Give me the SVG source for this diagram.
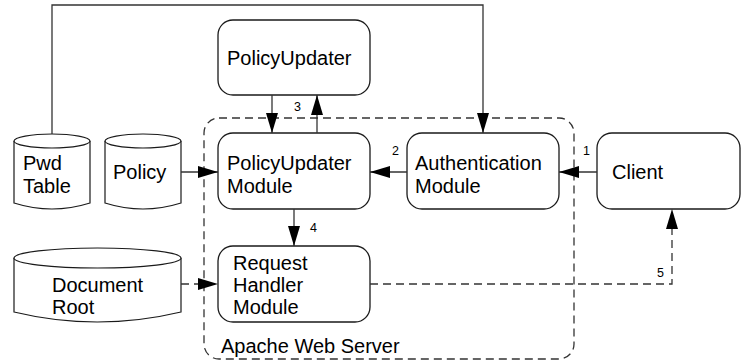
<svg xmlns="http://www.w3.org/2000/svg" width="741" height="363" viewBox="0 0 741 363">
<style>
.box{fill:#fff;stroke:#1a1a1a;stroke-width:1.3}
.cyl{fill:#fff;stroke:#1a1a1a;stroke-width:1.2}
.t{font-family:"Liberation Sans",Arial,sans-serif;font-size:20px;fill:#000}
.n{font-family:"Liberation Sans",Arial,sans-serif;font-size:12.5px;fill:#000}
.ln{fill:none;stroke:#333;stroke-width:1.3}
.dash{fill:none;stroke:#333;stroke-width:1.3;stroke-dasharray:8,5}
</style>
<defs>
<marker id="ah" markerUnits="userSpaceOnUse" markerWidth="20" markerHeight="12" refX="20" refY="6" orient="auto">
<path d="M0,0 L20,6 L0,12 Z" fill="#000"/>
</marker>
</defs>
<g id="apache-web-server">
<rect x="204" y="118" width="370" height="241" rx="15" class="dash"/>
<text x="221" y="353" class="t">Apache Web Server</text>
</g>
<g id="policy-updater">
<rect x="218" y="20" width="152" height="75" rx="15" class="box"/>
<text x="227" y="65" class="t">PolicyUpdater</text>
</g>
<g id="policy-updater-module">
<rect x="218" y="133" width="152" height="76" rx="15" class="box"/>
<text x="227" y="170" class="t">PolicyUpdater</text>
<text x="227" y="193" class="t">Module</text>
</g>
<g id="authentication-module">
<rect x="407" y="133" width="152" height="76" rx="15" class="box"/>
<text x="415" y="170" class="t">Authentication</text>
<text x="415" y="193" class="t">Module</text>
</g>
<g id="client">
<rect x="597" y="133" width="143" height="76" rx="15" class="box"/>
<text x="612" y="179" class="t">Client</text>
</g>
<g id="request-handler-module">
<rect x="218" y="246" width="152" height="76" rx="15" class="box"/>
<text x="233" y="270" class="t">Request</text>
<text x="233" y="292" class="t">Handler</text>
<text x="233" y="314" class="t">Module</text>
</g>
<g id="pwd-table">
<path d="M14,141 V203 Q52,215 90,203 V141" class="cyl"/>
<ellipse cx="52" cy="141" rx="38" ry="7" class="cyl"/>
<text x="23" y="170" class="t">Pwd</text>
<text x="23" y="193" class="t">Table</text>
</g>
<g id="policy">
<path d="M105,141 V203 Q143,215 181,203 V141" class="cyl"/>
<ellipse cx="143" cy="141" rx="38" ry="7" class="cyl"/>
<text x="113" y="179" class="t">Policy</text>
</g>
<g id="document-root">
<path d="M14,258 V312 Q97,332 181,312 V258" class="cyl"/>
<ellipse cx="97.5" cy="258" rx="83.5" ry="10" class="cyl"/>
<text x="52" y="292" class="t">Document</text>
<text x="52" y="314" class="t">Root</text>
</g>
<g id="connectors">
<path d="M52,134 V5 H483 V133" class="ln" marker-end="url(#ah)"/>
<path d="M272,95 V133" class="ln" marker-end="url(#ah)"/>
<path d="M317,133 V95" class="ln" marker-end="url(#ah)"/>
<text x="294" y="111" class="n">3</text>
<path d="M597,172 H559" class="ln" marker-end="url(#ah)"/>
<text x="583" y="155" class="n">1</text>
<path d="M407,172 H370" class="ln" marker-end="url(#ah)"/>
<text x="392" y="155" class="n">2</text>
<path d="M181,172 H218" class="ln" marker-end="url(#ah)"/>
<path d="M294,209 V246" class="ln" marker-end="url(#ah)"/>
<text x="310" y="232" class="n">4</text>
<path d="M181,284 H218" class="dash" marker-end="url(#ah)"/>
<path d="M370,284 H672 V209" class="dash" marker-end="url(#ah)"/>
<text x="657" y="277" class="n">5</text>
</g>
</svg>
